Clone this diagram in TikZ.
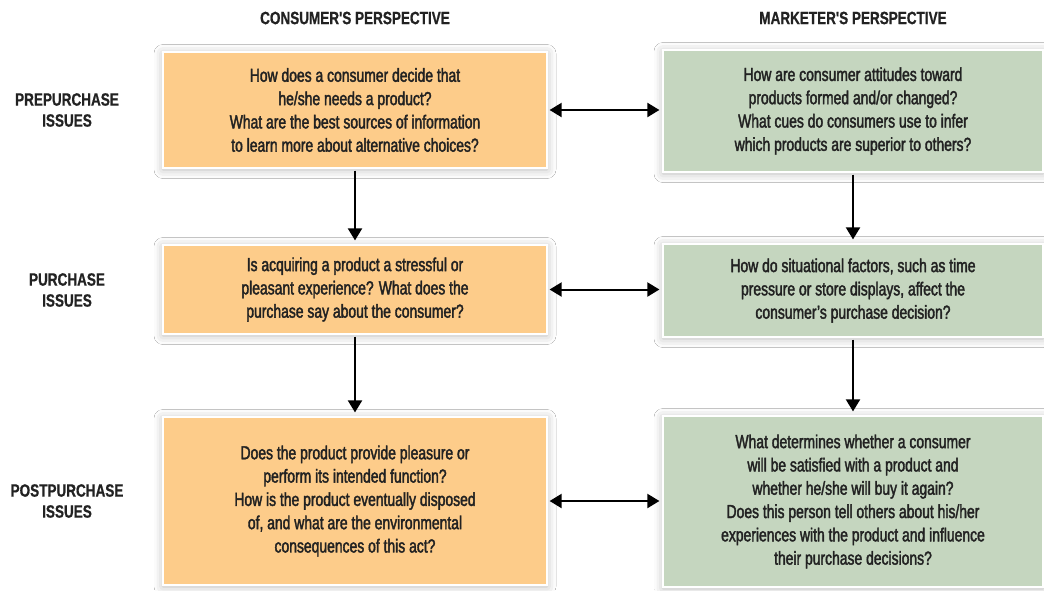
\documentclass[tikz,border=0pt]{standalone}
\usepackage{fontspec}
\setmainfont{Liberation Sans}[FakeStretch=0.8]
\newfontfamily\boxfont{Liberation Sans}[FakeStretch=0.74, FakeBold=2]
\newfontfamily\headfont{Liberation Sans Bold}[FakeStretch=0.76, FakeBold=0.8]
\usetikzlibrary{positioning, arrows.meta, shadows.blur}
\definecolor{consfill}{RGB}{253,204,138}
\definecolor{markfill}{RGB}{197,214,191}
\definecolor{txtgray}{RGB}{34,34,34}

\begin{document}
\begin{tikzpicture}[x=1pt, y=-1pt,
    issue/.style={rectangle, draw=white, line width=1.2pt, align=center, text=txtgray,
        font=\boxfont\fontsize{18.8}{23.3}\selectfont,
        blur shadow={shadow xshift=0pt, shadow yshift=-1.5pt, shadow blur radius=9pt, shadow opacity=28}},
    consbox/.style={issue, fill=consfill, minimum width=384pt},
    markbox/.style={issue, fill=markfill, minimum width=380pt},
    head/.style={font=\headfont\fontsize{17.8}{21}\selectfont, text=txtgray, align=center},
    link/.style={line width=2pt, -{Triangle[width=14pt, length=12pt]}, shorten >=4pt, shorten <=2pt},
    twoway/.style={line width=2pt, {Triangle[width=14pt, length=12pt]}-{Triangle[width=14pt, length=12pt]}, shorten >=3pt, shorten <=2pt}]
            \useasboundingbox (0,0) rectangle (1044,590);
            \fill[white] (0,0) rectangle (1044,590);
            % column headings
            \node[head] (hcons) at (355,18) {CONSUMER'S PERSPECTIVE};
            \node[head] (hmark) at (853,18) {MARKETER'S PERSPECTIVE};
            % row headings
            \node[head] (hpre) at (67,110) {PREPURCHASE\\ISSUES};
            \node[head] (hpur) at (67,290) {PURCHASE\\ISSUES};
            \node[head] (hpost) at (67,501) {POSTPURCHASE\\ISSUES};
            % consumer side
            \node[consbox, minimum height=116pt] (c1) at (355,110) {How does a consumer decide that\\he/she needs a product?\\What are the best sources of information\\to learn more about alternative choices?};
            \node[consbox, minimum height=89pt] (c2) at (355,289.5) {Is acquiring a product a stressful or\\pleasant experience? What does the\\purchase say about the consumer?};
            \node[consbox, minimum height=168pt] (c3) at (355,501) {Does the product provide pleasure or\\perform its intended function?\\How is the product eventually disposed\\of, and what are the environmental\\consequences of this act?};
            % marketer side
            \node[markbox, minimum height=122pt] (m1) at (853,111) {How are consumer attitudes toward\\products formed and/or changed?\\What cues do consumers use to infer\\which products are superior to others?};
            \node[markbox, minimum height=93pt] (m2) at (853,290.5) {How do situational factors, such as time\\pressure or store displays, affect the\\consumer’s purchase decision?};
            \node[markbox, minimum height=171pt] (m3) at (853,501.5) {What determines whether a consumer\\will be satisfied with a product and\\whether he/she will buy it again?\\Does this person tell others about his/her\\experiences with the product and influence\\their purchase decisions?};
            % arrows
            \foreach \r in {1,2,3} {
                \draw[twoway] (c\r.east) -- (c\r.east -| m\r.west);
            }
            \draw[link] (c1) -- (c2);
            \draw[link] (c2) -- (c3);
            \draw[link] (m1) -- (m2);
            \draw[link] (m2) -- (m3);
        \end{tikzpicture}
\end{document}
